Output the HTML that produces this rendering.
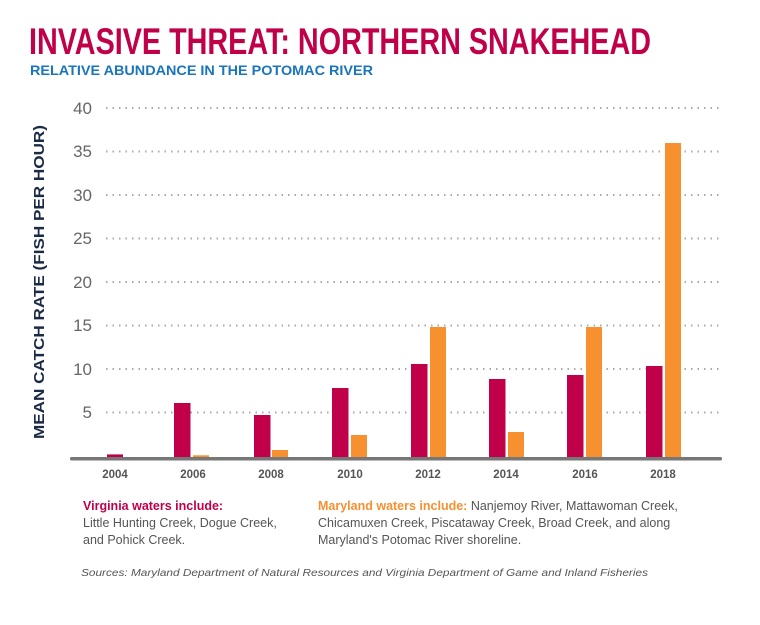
<!DOCTYPE html>
<html><head><meta charset="utf-8"><style>
body{margin:0;background:#fff;}
svg text{font-family:"Liberation Sans",sans-serif;}
</style></head><body>
<svg width="760" height="620" viewBox="0 0 760 620" xmlns="http://www.w3.org/2000/svg">
<text x="29" y="54" font-size="37" font-weight="bold" fill="#c1004a" textLength="622" lengthAdjust="spacingAndGlyphs" font-family="Liberation Sans Narrow, Liberation Sans, sans-serif">INVASIVE THREAT: NORTHERN SNAKEHEAD</text>
<text x="30" y="75" font-size="14" font-weight="bold" fill="#1a75bb" textLength="343" lengthAdjust="spacingAndGlyphs">RELATIVE ABUNDANCE IN THE POTOMAC RIVER</text>
<g stroke="#aaa" stroke-width="2" stroke-dasharray="1.5,5" fill="none">
<line x1="106" y1="108" x2="722" y2="108"/>
<line x1="106" y1="151.5" x2="722" y2="151.5"/>
<line x1="106" y1="195" x2="722" y2="195"/>
<line x1="106" y1="238.5" x2="722" y2="238.5"/>
<line x1="106" y1="282" x2="722" y2="282"/>
<line x1="106" y1="325.5" x2="722" y2="325.5"/>
<line x1="106" y1="369" x2="722" y2="369"/>
<line x1="106" y1="412.5" x2="722" y2="412.5"/>
</g>
<g font-size="17" fill="#666" text-anchor="end">
<text x="92" y="114">40</text><text x="92" y="157">35</text><text x="92" y="201">30</text>
<text x="92" y="244">25</text><text x="92" y="288">20</text><text x="92" y="331">15</text>
<text x="92" y="375">10</text><text x="92" y="418">5</text>
</g>
<text transform="translate(44,282) rotate(-90)" font-size="15" font-weight="bold" fill="#1c2b45" text-anchor="middle" textLength="314" lengthAdjust="spacingAndGlyphs">MEAN CATCH RATE (FISH PER HOUR)</text>
<g fill="#c1004a">
<rect x="107" y="454.4" width="16" height="2.6"/>
<rect x="174" y="403" width="16.5" height="54"/>
<rect x="254" y="415" width="16.5" height="42"/>
<rect x="332" y="388" width="16.5" height="69"/>
<rect x="411" y="364" width="16.5" height="93"/>
<rect x="489" y="379" width="16.5" height="78"/>
<rect x="567" y="375" width="16.5" height="82"/>
<rect x="646" y="366" width="16.5" height="91"/>
</g>
<g fill="#f7902f">
<rect x="193" y="455.3" width="16" height="1.7"/>
<rect x="272" y="450" width="16" height="7"/>
<rect x="351" y="435" width="16" height="22"/>
<rect x="430" y="327" width="16" height="130"/>
<rect x="508" y="432" width="16" height="25"/>
<rect x="586" y="327" width="16" height="130"/>
<rect x="665" y="143" width="16" height="314"/>
</g>
<rect x="70" y="457" width="652" height="3.5" rx="1.5" fill="#777"/>
<g font-size="11.5" font-weight="bold" fill="#555" text-anchor="middle">
<text x="115" y="478">2004</text><text x="193" y="478">2006</text><text x="271" y="478">2008</text>
<text x="350" y="478">2010</text><text x="428" y="478">2012</text><text x="506" y="478">2014</text>
<text x="585" y="478">2016</text><text x="663" y="478">2018</text>
</g>
<g font-size="12.5">
<text x="83" y="510" fill="#c1004a" font-weight="bold">Virginia waters include:</text>
<text x="83" y="527" fill="#555">Little Hunting Creek, Dogue Creek,</text>
<text x="83" y="544" fill="#555">and Pohick Creek.</text>
<text x="318" y="510"><tspan fill="#f7902f" font-weight="bold">Maryland waters include: </tspan><tspan fill="#555">Nanjemoy River, Mattawoman Creek,</tspan></text>
<text x="318" y="527" fill="#555">Chicamuxen Creek, Piscataway Creek, Broad Creek, and along</text>
<text x="318" y="544" fill="#555">Maryland's Potomac River shoreline.</text>
</g>
<text x="81" y="576" font-size="10.5" font-style="italic" fill="#555" textLength="567" lengthAdjust="spacingAndGlyphs">Sources: Maryland Department of Natural Resources and Virginia Department of Game and Inland Fisheries</text>
</svg>
</body></html>
